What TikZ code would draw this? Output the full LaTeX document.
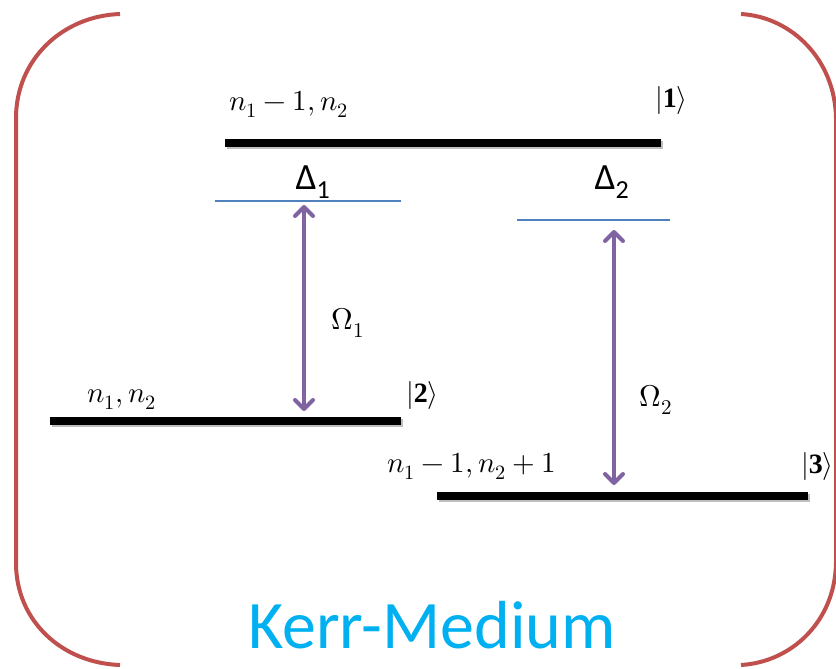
\documentclass[tikz,border=0pt]{standalone}
\usepackage{fontspec}
\usepackage{unicode-math}
\setmainfont{Liberation Serif}
\setmathfont{Latin Modern Math}
\newfontfamily\calib{Carlito}
\usetikzlibrary{arrows.meta}
\definecolor{brk}{HTML}{C0504D}
\definecolor{lvlblue}{HTML}{4F81BD}
\definecolor{purp}{HTML}{8064A2}
\definecolor{kerr}{HTML}{00B0F0}
\begin{document}
\begin{tikzpicture}[x=1pt,y=-1pt,
  level/.style={line width=7.5pt},
  shadowlvl/.style={line width=7.5pt,black!25},
  virt/.style={line width=1.3pt,lvlblue},
  bracket/.style={line width=4pt,brk},
  trans/.style={line width=4pt,purp,{Straight Barb[length=9pt,width=18pt,round]}-{Straight Barb[length=9pt,width=18pt,round]}},
  lab/.style={inner sep=0pt},
  glab/.style={inner sep=0pt,font=\calib\fontsize{37}{40}\selectfont},
  ket/.style={inner sep=0pt}]
\useasboundingbox (0,0) rectangle (836,669);
% brackets
\draw[bracket] (120,14) .. controls (62,16) and (16,60) .. (16,118) -- (16,563) .. controls (16,621) and (62,663) .. (120,665);
\draw[bracket] (741,14) .. controls (792,17) and (835,60) .. (836,118) -- (836,563) .. controls (835,621) and (792,662) .. (741,665);
% levels
\coordinate (l1a) at (225,143); \coordinate (l1b) at (661,143);
\coordinate (l2a) at (50,421); \coordinate (l2b) at (401,421);
\coordinate (l3a) at (437,496); \coordinate (l3b) at (808,496);
\draw[shadowlvl] ([shift={(2,2)}]l1a) -- ([shift={(2,2)}]l1b);
\draw[shadowlvl] ([shift={(2,2)}]l2a) -- ([shift={(2,2)}]l2b);
\draw[shadowlvl] ([shift={(2,2)}]l3a) -- ([shift={(2,2)}]l3b);
\draw[level] (l1a) -- (l1b);
\draw[level] (l2a) -- (l2b);
\draw[level] (l3a) -- (l3b);
% virtual levels
\coordinate (v1a) at (215,201); \coordinate (v1b) at (401,201);
\coordinate (v2a) at (517,220); \coordinate (v2b) at (670,220);
\draw[virt] (v1a) -- (v1b);
\draw[virt] (v2a) -- (v2b);
% transitions
\coordinate (t1a) at (304,205); \coordinate (t1b) at (304,411);
\coordinate (t2a) at (614,230); \coordinate (t2b) at (614,485);
\draw[trans] (t1a) -- (t1b);
\draw[trans] (t2a) -- (t2b);
% labels
\node[lab,anchor=west] (n1) at (229,104) {\fontsize{29}{32}\selectfont $n_1-1,n_2$};
\node[ket,anchor=west] (k1) at (655,100) {\fontsize{28}{32}\selectfont $|\mathbf{1}\rangle$};
\node[lab,anchor=west] (n2) at (87,400) {\fontsize{29}{32}\selectfont $n_1,n_2$};
\node[ket,anchor=west] (k2) at (406,395) {\fontsize{28}{32}\selectfont $|\mathbf{2}\rangle$};
\node[lab,anchor=west] (n3) at (387,466) {\fontsize{29}{32}\selectfont $n_1-1,n_2+1$};
\node[ket,anchor=west] (k3) at (801,466) {\fontsize{28}{32}\selectfont $|\mathbf{3}\rangle$};
\node[glab] (d1) at (313,182) {Δ\textsubscript{\fontsize{26}{28}\selectfont 1}};
\node[glab] (d2) at (612,182) {Δ\textsubscript{\fontsize{26}{28}\selectfont 2}};
\node[lab] (o1) at (348,323) {\fontsize{30}{34}\selectfont $\Omega_1$};
\node[lab] (o2) at (656,400) {\fontsize{30}{34}\selectfont $\Omega_2$};
\node[inner sep=0pt,text=kerr,font=\calib\fontsize{68}{74}\selectfont] (km) at (432,625) {Kerr-Medium};
\end{tikzpicture}
\end{document}
